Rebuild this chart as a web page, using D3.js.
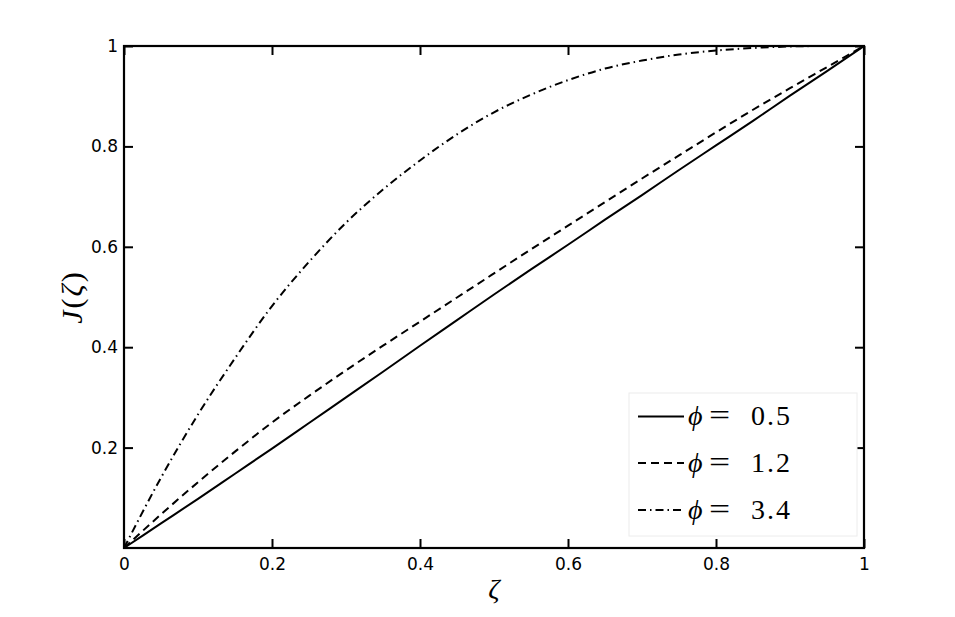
<!DOCTYPE html>
<html>
<head>
<meta charset="utf-8">
<script src="https://cdn.jsdelivr.net/npm/d3@7"></script>
<style>
  html, body { margin: 0; padding: 0; background: #fff; }
  svg { display: block; }
</style>
</head>
<body>
<svg id="chart" width="955" height="617"></svg>
<script>
// ---- data ----
const zeta = [0, 0.05, 0.1, 0.15, 0.2, 0.25, 0.3, 0.35, 0.4, 0.45, 0.5,
              0.55, 0.6, 0.65, 0.7, 0.75, 0.8, 0.85, 0.9, 0.95, 1];
const J_phi05 = [0, 0.049, 0.098, 0.148, 0.198, 0.249, 0.300, 0.351, 0.403, 0.454, 0.505,
                 0.555, 0.604, 0.654, 0.703, 0.753, 0.802, 0.851, 0.901, 0.950, 1];
const J_phi12 = [0, 0.067, 0.131, 0.192, 0.250, 0.303, 0.354, 0.403, 0.451, 0.499, 0.547,
                 0.595, 0.642, 0.689, 0.736, 0.782, 0.828, 0.873, 0.916, 0.958, 1];
const J_phi34 = [0, 0.140, 0.266, 0.378, 0.482, 0.570, 0.648, 0.714, 0.772, 0.824, 0.868,
                 0.903, 0.932, 0.955, 0.971, 0.983, 0.991, 0.996, 0.999, 1.0, 1];
const seriesSymbol = ["\u03D5", "\u03D5", "\u03D5"];
const seriesValue = ["0.5", "1.2", "3.4"];
const seriesDash = ["none", "8,5", "8,4,1.5,4"];
const xTicks = [0, 0.2, 0.4, 0.6, 0.8, 1];
const xTickLabels = ["0", "0.2", "0.4", "0.6", "0.8", "1"];
const yTicks = [0.2, 0.4, 0.6, 0.8, 1];
const yTickLabels = ["0.2", "0.4", "0.6", "0.8", "1"];

// ---- layout ----
const svg = d3.select("#chart");
const L = 124, R = 864, T = 46, B = 548;
const x = d3.scaleLinear().domain([0, 1]).range([L, R]);
const y = d3.scaleLinear().domain([0, 1]).range([B, T]);

const series = [J_phi05, J_phi12, J_phi34];

// curves
const line = d3.line().x((d, i) => x(zeta[i])).y(d => y(d)).curve(d3.curveMonotoneX);
const plot = svg.append("g");
series.forEach((s, k) => {
  plot.append("path")
    .datum(s)
    .attr("d", line)
    .attr("fill", "none")
    .attr("stroke", "#000")
    .attr("stroke-width", 2)
    .attr("stroke-dasharray", seriesDash[k]);
});

// axes (inward ticks on all four sides)
const tickFont = "'DejaVu Sans', Verdana, sans-serif";
const xfmt = (d) => xTickLabels[xTicks.indexOf(d)];
const yfmt = (d) => yTickLabels[yTicks.indexOf(d)];

const gB = svg.append("g").attr("transform", `translate(0,${B})`)
  .call(d3.axisBottom(x).tickValues(xTicks).tickFormat(xfmt).tickSizeInner(-9).tickSizeOuter(0).tickPadding(10));
const gT = svg.append("g").attr("transform", `translate(0,${T})`)
  .call(d3.axisTop(x).tickValues(xTicks).tickFormat("").tickSizeInner(-9).tickSizeOuter(0));
const gL = svg.append("g").attr("transform", `translate(${L},0)`)
  .call(d3.axisLeft(y).tickValues(yTicks).tickFormat(yfmt).tickSizeInner(-9).tickSizeOuter(0).tickPadding(6));
const gR = svg.append("g").attr("transform", `translate(${R},0)`)
  .call(d3.axisRight(y).tickValues(yTicks).tickFormat("").tickSizeInner(-9).tickSizeOuter(0));

[gB, gT, gL, gR].forEach(g => {
  g.select(".domain").remove();
  g.selectAll(".tick line").attr("stroke", "#000").attr("stroke-width", 2);
  g.selectAll(".tick text").attr("fill", "#000")
    .style("font-family", tickFont).style("font-size", "17px");
});

// box
svg.append("rect")
  .attr("x", L).attr("y", T).attr("width", R - L).attr("height", B - T)
  .attr("fill", "none").attr("stroke", "#000").attr("stroke-width", 2.2);

// axis titles
const serif = "'Liberation Serif', 'DejaVu Serif', serif";
svg.append("text")
  .attr("x", x(0.5)).attr("y", 598)
  .attr("text-anchor", "middle")
  .style("font-family", serif).style("font-style", "italic").style("font-size", "28px")
  .text("\u03B6");
const yt = svg.append("text")
  .attr("transform", `translate(82,${(T + B) / 2}) rotate(-90)`)
  .attr("text-anchor", "middle")
  .style("font-family", serif).style("font-size", "30px").style("letter-spacing", "2px");
yt.append("tspan").style("font-style", "italic").text("J");
yt.append("tspan").text("(");
yt.append("tspan").style("font-style", "italic").text("\u03B6");
yt.append("tspan").text(")");

// legend
const lg = svg.append("g");
lg.append("rect")
  .attr("x", 629).attr("y", 393).attr("width", 228).attr("height", 143)
  .attr("fill", "#fff").attr("stroke", "#ececec").attr("stroke-width", 1);
const rowY = [416.5, 463, 510];
series.forEach((s, k) => {
  lg.append("line")
    .attr("x1", 638).attr("x2", 684).attr("y1", rowY[k]).attr("y2", rowY[k])
    .attr("stroke", "#000").attr("stroke-width", 2)
    .attr("stroke-dasharray", seriesDash[k]);
  const base = rowY[k] + 8.5;
  lg.append("text")
    .attr("x", 688).attr("y", base)
    .style("font-family", serif).style("font-style", "italic").style("font-size", "28px")
    .text(seriesSymbol[k]);
  lg.append("text")
    .attr("x", 0).attr("y", 0)
    .attr("transform", `translate(709,${base}) scale(1.25,1)`)
    .style("font-family", serif).style("font-size", "30px")
    .text("=");
  lg.append("text")
    .attr("x", 751).attr("y", base)
    .style("font-family", serif).style("font-size", "28px").style("letter-spacing", "2px")
    .text(seriesValue[k]);
});
</script>
</body>
</html>
